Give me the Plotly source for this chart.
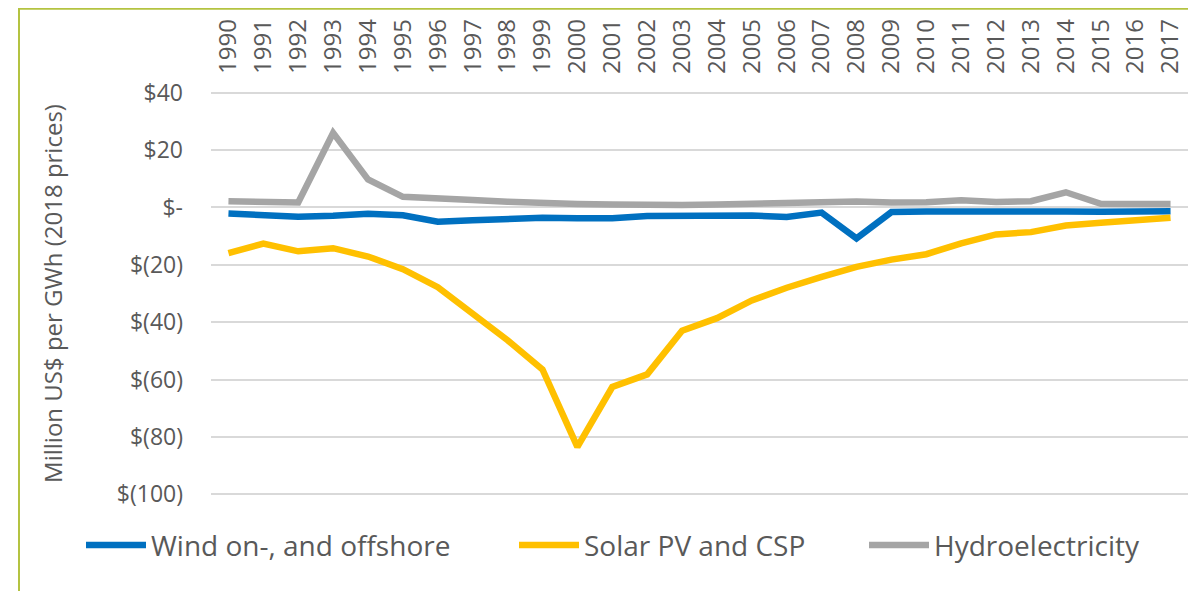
import plotly.graph_objects as go

years = [str(y) for y in range(1990, 2018)]

wind = [-2.1, -2.7, -3.2, -2.9, -2.2, -2.7, -5.0, -4.5, -4.0, -3.6, -3.8, -3.8, -3.0, -3.0, -2.7, -2.8, -3.3, -1.8,
        -10.8, -1.6, -1.4, -1.3, -1.2, -1.2, -1.4, -1.5, -1.4, -1.3]
solar = [-15.9, -12.6, -15.3, -14.2, -17.1, -21.5, -27.8, -36.8, -46.3, -56.5, -83.5, -62.6, -58.2, -43.0, -38.6,
         -32.4, -28.0, -24.2, -20.7, -18.2, -16.3, -12.5, -9.4, -8.6, -6.3, -5.3, -4.7, -3.6]
hydro = [2.2, 1.8, 1.7, 26.0, 9.8, 3.7, 2.9, 2.6, 2.0, 1.4, 1.2, 1.0, 0.7, 0.9, 1.0, 1.2, 1.2, 1.5,
         2.1, 1.7, 1.8, 2.5, 1.9, 2.2, 5.3, 1.3, 1.0, 1.2]

y_tickvals = [40, 20, 0, -20, -40, -60, -80, -100]
y_ticktext = ["$40", "$20", "$-", "$(20)", "$(40)", "$(60)", "$(80)", "$(100)"]

series_names = ["Wind on-, and offshore", "Solar PV and CSP", "Hydroelectricity"]
colors = ["#0070C0", "#FFC000", "#A5A5A5"]

FONT = "Open Sans"
TXT = "#595959"

fig = go.Figure()
for i, (name, vals, col) in enumerate(zip(series_names, [wind, solar, hydro], colors)):
    fig.add_trace(go.Scatter(
        x=years, y=vals, mode="lines", name=name,
        line=dict(color=col, width=6.5),
        legend="legend" if i == 0 else f"legend{i+1}",
    ))

# page has an 8px body margin: figure is drawn from page (8,8)
OFF = 8
W, H = 1196 - OFF, 591 - OFF
Y_LO, Y_HI = -102, 42
unit = (494 - 93) / 140.0
top_page = 93 - (Y_HI - 40) * unit
bot_page = 494 + (-100 - Y_LO) * unit
L = 211 - OFF
R = W - (1188 - OFF)
T = top_page - OFF
B = H - (bot_page - OFF)
pw, ph = W - L - R, H - T - B

def px(xp):  # page x -> paper
    return (xp - OFF - L) / pw

def py(yp):  # page y -> paper
    return (H - B - (yp - OFF)) / ph

leg_common = dict(orientation="h", yanchor="middle", xanchor="left", itemwidth=60,
                  font=dict(family=FONT, size=28, color=TXT), bgcolor="rgba(0,0,0,0)")
leg_x = [81, 514, 864]
legend_y = py(545)

fig.update_layout(
    width=W, height=H,
    margin=dict(l=L, r=R, t=T, b=B, autoexpand=False),
    paper_bgcolor="white", plot_bgcolor="white",
    font=dict(family=FONT, color=TXT),
    showlegend=True,
    legend=dict(x=px(leg_x[0]), y=legend_y, **leg_common),
    legend2=dict(x=px(leg_x[1]), y=legend_y, **leg_common),
    legend3=dict(x=px(leg_x[2]), y=legend_y, **leg_common),
    xaxis=dict(
        type="category", side="top", tickangle=-90, automargin=False,
        range=[-0.5, 27.5], showgrid=False, showline=False, ticks="",
        tickfont=dict(family=FONT, size=24, color=TXT),
        ticklabelstandoff=12,
    ),
    yaxis=dict(
        range=[Y_LO, Y_HI], tickvals=y_tickvals, ticktext=y_ticktext, automargin=False,
        showgrid=True, gridcolor="#D9D9D9", gridwidth=2,
        zeroline=True, zerolinecolor="#D9D9D9", zerolinewidth=2,
        showline=False, ticks="",
        tickfont=dict(family=FONT, size=23, color=TXT),
        ticklabelstandoff=27,
        title=dict(text="Million US$ per GWh (2018 prices)", font=dict(family=FONT, size=24, color=TXT), standoff=47),
    ),
    shapes=[dict(type="rect", xref="paper", yref="paper",
                 x0=px(19), x1=px(1250), y0=py(OFF + 1), y1=py(650),
                 line=dict(color="#B4C341", width=2), fillcolor="rgba(0,0,0,0)", layer="below")],
)

fig.write_html("out.html")
